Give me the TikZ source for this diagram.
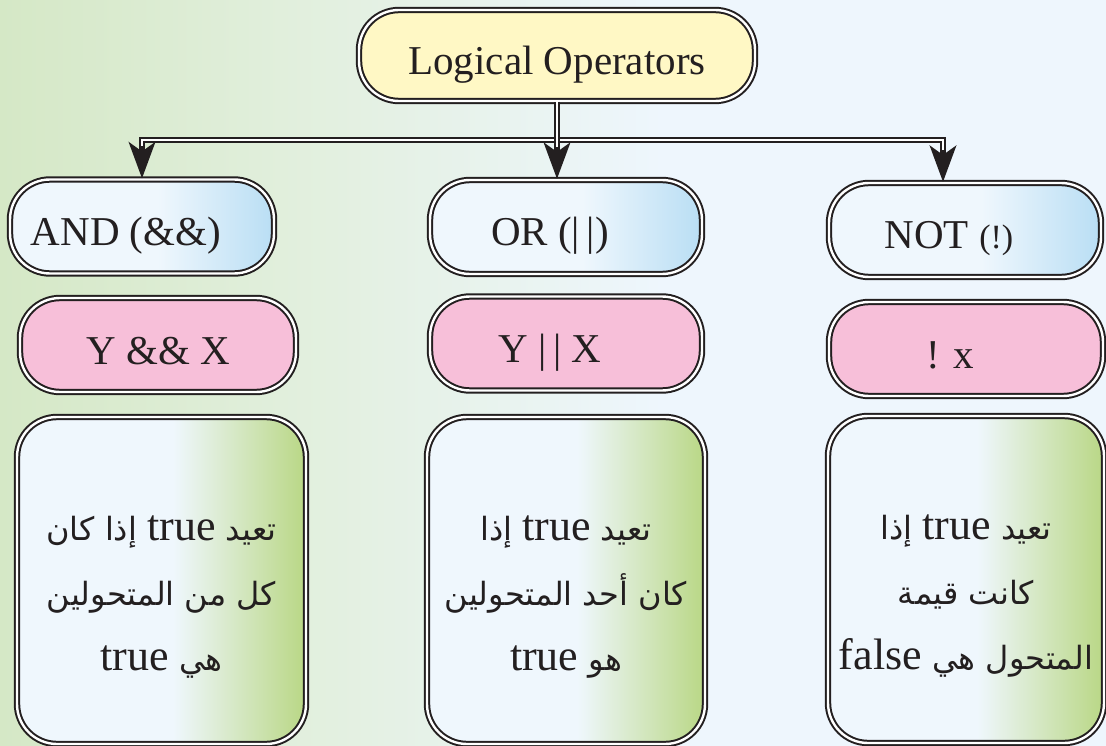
\documentclass[tikz,border=0pt]{standalone}
\usepackage{fontspec}
\setmainfont{Liberation Serif}
\newfontfamily\arabicfont[Script=Arabic]{DejaVu Sans}
\TeXXeTstate=1
\usepackage{xcolor}
\definecolor{cLine}{HTML}{231F20}
\definecolor{cBgGreen}{HTML}{D5E8C6}
\definecolor{cBgMid}{HTML}{E3F0E0}
\definecolor{cBgBlue}{HTML}{EEF6FD}
\definecolor{cPale}{HTML}{EFF7FD}
\definecolor{cBlue}{HTML}{B9DEF4}
\definecolor{cGreen}{HTML}{B9D785}
\definecolor{cYellow}{HTML}{FFF8C5}
\definecolor{cPink}{HTML}{F7BFD9}
\usetikzlibrary{arrows.meta,calc}
\pgfdeclarehorizontalshading{bg-fade}{100bp}{color(0bp)=(cBgGreen); color(25bp)=(cBgGreen);
  color(40bp)=(cBgMid); color(55bp)=(cBgBlue); color(100bp)=(cBgBlue)}
\pgfdeclarehorizontalshading{blue-fade}{100bp}{color(0bp)=(cPale); color(25bp)=(cPale);
  color(53bp)=(cPale); color(75bp)=(cBlue); color(100bp)=(cBlue)}
\pgfdeclarehorizontalshading{green-fade}{100bp}{color(0bp)=(cPale); color(25bp)=(cPale);
  color(52bp)=(cPale); color(75bp)=(cGreen); color(100bp)=(cGreen)}
\tikzset{
  box-base/.style={draw=cLine,double=white,line width=2pt,double distance=2.4pt,
    rounded corners=40pt,align=center,inner sep=0pt,text=cLine},
  % one-line labels sit on a baseline a bit under the middle
  box-line/.style={text height=38pt,text depth=0pt,font=\fontsize{41}{48}\selectfont},
  text-left/.style={execute at end node={\hspace*{32pt}}},
  node-title/.style={box-base,box-line,fill=cYellow,minimum width=396pt,minimum height=91pt},
  node-op/.style={box-base,box-line,text-left,shading=blue-fade,minimum height=94pt},
  node-expr/.style={box-base,box-line,fill=cPink,minimum height=94pt},
  node-desc/.style={box-base,shading=green-fade,minimum height=327pt},
  desc-text/.style={align=center,inner sep=0pt,text=cLine,font=\fontsize{32}{65}\arabicfont},
  link/.style={draw=cLine,line width=6.4pt,
    -{Stealth[length=36pt,width=26pt,inset=9pt]},
    postaction={draw=white,line width=2.4pt,-,shorten >=32pt}},
}
\newcommand{\ltn}[1]{{\rmfamily\fontsize{44}{65}\selectfont #1}}

\begin{document}
\begin{tikzpicture}[x=1pt,y=-1pt]
  \useasboundingbox (0,0) rectangle (1106,746);
  \fill[shading=bg-fade] (0,0) rectangle (1106,746);

  % root
  \node[node-title] (title) at (557,55.5) {Logical Operators};

  % operators
  \node[node-op,minimum width=264pt] (and) at (142,226.5) {AND (\&\&)};
  \node[node-op,minimum width=272pt] (or)  at (566,227)   {OR (|\,|)};
  \node[node-op,minimum width=272pt] (not) at (965,230)
    {NOT {\fontsize{34}{40}\selectfont(!)}};

  % expressions
  \node[node-expr,minimum width=276pt] (and-ex) at (158,345) {Y \&\& X};
  \node[node-expr,text-left,minimum width=272pt] (or-ex)  at (566,343.5) {Y |\,| X};
  \node[node-expr,text-left,minimum width=274pt] (not-ex) at (966,349)   {! x};

  % descriptions
  \node[node-desc,minimum width=289pt] (and-desc) at (161.5,580.5) {};
  \node[node-desc,minimum width=278pt] (or-desc)  at (566,580.5)   {};
  \node[node-desc,minimum width=276pt] (not-desc) at (966,579.5)   {};
  \node[desc-text] (and-txt) at ([yshift=-17pt]and-desc.center)
    {\beginR تعيد \ltn{true} إذا كان\endR\\
     \beginR كل من المتحولين\endR\\
     \beginR هي \ltn{true}\endR};
  \node[desc-text] (or-txt) at ([yshift=-17pt]or-desc.center)
    {\beginR تعيد \ltn{true} إذا\endR\\
     \beginR كان أحد المتحولين\endR\\
     \beginR هو \ltn{true}\endR};
  \node[desc-text] (not-txt) at ([yshift=-17pt]not-desc.center)
    {\beginR تعيد \ltn{true} إذا\endR\\
     \beginR كانت قيمة\endR\\
     \beginR المتحول هي \ltn{false}\endR};

  % connectors
  \coordinate (bus) at (557,140);
  \draw[link] (bus) -| (and.north);
  \draw[link] (bus) -| ([xshift=-22pt]not.north);
  \draw[link] (title) -- (title |- or.north);
\end{tikzpicture}
\end{document}
